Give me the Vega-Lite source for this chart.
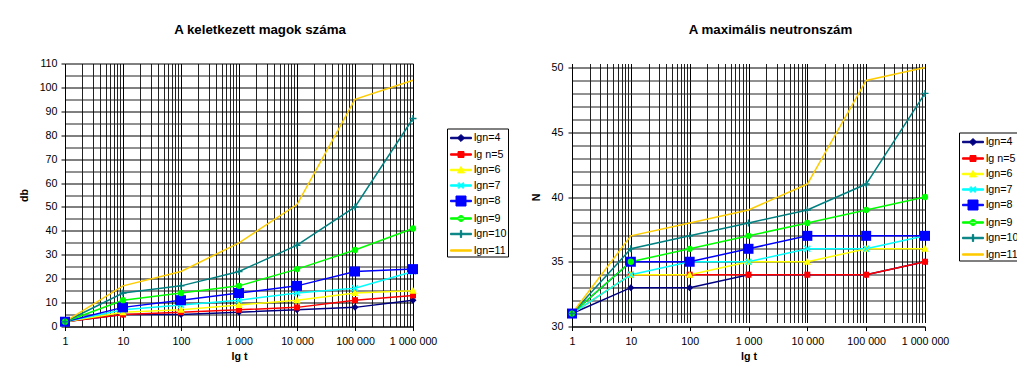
{
  "$schema": "https://vega.github.io/schema/vega-lite/v6.json",
  "padding": {"left": 18, "top": 22.5, "right": 0, "bottom": 0},
  "config": {
    "font": "Liberation Sans",
    "view": {"stroke": null},
    "axis": {
      "labelFont": "Liberation Sans", "labelFontSize": 10.7, "labelColor": "#000",
      "titleFont": "Liberation Sans", "titleFontSize": 10.7, "titleFontWeight": "bold", "titleColor": "#000",
      "domainColor": "#000", "gridOpacity": 1, "gridWidth": 1, "tickSize": 4, "labelOverlap": false, "labelFlush": false
    },
    "legend": {
      "labelFont": "Liberation Sans", "labelFontSize": 10.7, "labelColor": "#000",
      "strokeColor": "#000", "padding": 1, "symbolSize": 256, "rowPadding": 1.5, "labelOffset": 4.5, "symbolOffset": 4.5, "symbolStrokeWidth": 1
    }
  },
  "datasets": {
    "db": [
      {"t": 1, "s": "lgn=4", "v": 2}, {"t": 10, "s": "lgn=4", "v": 5}, {"t": 100, "s": "lgn=4", "v": 5}, {"t": 1000, "s": "lgn=4", "v": 6}, {"t": 10000, "s": "lgn=4", "v": 7}, {"t": 100000, "s": "lgn=4", "v": 8}, {"t": 1000000, "s": "lgn=4", "v": 11},
      {"t": 1, "s": "lg n=5", "v": 2}, {"t": 10, "s": "lg n=5", "v": 5}, {"t": 100, "s": "lg n=5", "v": 6}, {"t": 1000, "s": "lg n=5", "v": 7}, {"t": 10000, "s": "lg n=5", "v": 8}, {"t": 100000, "s": "lg n=5", "v": 11}, {"t": 1000000, "s": "lg n=5", "v": 13},
      {"t": 1, "s": "lgn=6", "v": 2}, {"t": 10, "s": "lgn=6", "v": 6}, {"t": 100, "s": "lgn=6", "v": 7}, {"t": 1000, "s": "lgn=6", "v": 9}, {"t": 10000, "s": "lgn=6", "v": 11}, {"t": 100000, "s": "lgn=6", "v": 14}, {"t": 1000000, "s": "lgn=6", "v": 15},
      {"t": 1, "s": "lgn=7", "v": 2}, {"t": 10, "s": "lgn=7", "v": 7}, {"t": 100, "s": "lgn=7", "v": 9}, {"t": 1000, "s": "lgn=7", "v": 11}, {"t": 10000, "s": "lgn=7", "v": 14}, {"t": 100000, "s": "lgn=7", "v": 16}, {"t": 1000000, "s": "lgn=7", "v": 23},
      {"t": 1, "s": "lgn=8", "v": 2}, {"t": 10, "s": "lgn=8", "v": 8}, {"t": 100, "s": "lgn=8", "v": 11}, {"t": 1000, "s": "lgn=8", "v": 14}, {"t": 10000, "s": "lgn=8", "v": 17}, {"t": 100000, "s": "lgn=8", "v": 23}, {"t": 1000000, "s": "lgn=8", "v": 24},
      {"t": 1, "s": "lgn=9", "v": 2}, {"t": 10, "s": "lgn=9", "v": 11}, {"t": 100, "s": "lgn=9", "v": 14}, {"t": 1000, "s": "lgn=9", "v": 17}, {"t": 10000, "s": "lgn=9", "v": 24}, {"t": 100000, "s": "lgn=9", "v": 32}, {"t": 1000000, "s": "lgn=9", "v": 41},
      {"t": 1, "s": "lgn=10", "v": 2}, {"t": 10, "s": "lgn=10", "v": 14}, {"t": 100, "s": "lgn=10", "v": 17}, {"t": 1000, "s": "lgn=10", "v": 23}, {"t": 10000, "s": "lgn=10", "v": 34}, {"t": 100000, "s": "lgn=10", "v": 50}, {"t": 1000000, "s": "lgn=10", "v": 87},
      {"t": 1, "s": "lgn=11", "v": 2}, {"t": 10, "s": "lgn=11", "v": 17}, {"t": 100, "s": "lgn=11", "v": 23}, {"t": 1000, "s": "lgn=11", "v": 35}, {"t": 10000, "s": "lgn=11", "v": 51}, {"t": 100000, "s": "lgn=11", "v": 95}, {"t": 1000000, "s": "lgn=11", "v": 103}
    ],
    "N": [
      {"t": 1, "s": "lgn=4", "v": 31}, {"t": 10, "s": "lgn=4", "v": 33}, {"t": 100, "s": "lgn=4", "v": 33}, {"t": 1000, "s": "lgn=4", "v": 34}, {"t": 10000, "s": "lgn=4", "v": 34}, {"t": 100000, "s": "lgn=4", "v": 34}, {"t": 1000000, "s": "lgn=4", "v": 35},
      {"t": 1, "s": "lg n=5", "v": 31}, {"t": 10, "s": "lg n=5", "v": 34}, {"t": 100, "s": "lg n=5", "v": 34}, {"t": 1000, "s": "lg n=5", "v": 34}, {"t": 10000, "s": "lg n=5", "v": 34}, {"t": 100000, "s": "lg n=5", "v": 34}, {"t": 1000000, "s": "lg n=5", "v": 35},
      {"t": 1, "s": "lgn=6", "v": 31}, {"t": 10, "s": "lgn=6", "v": 34}, {"t": 100, "s": "lgn=6", "v": 34}, {"t": 1000, "s": "lgn=6", "v": 35}, {"t": 10000, "s": "lgn=6", "v": 35}, {"t": 100000, "s": "lgn=6", "v": 36}, {"t": 1000000, "s": "lgn=6", "v": 36},
      {"t": 1, "s": "lgn=7", "v": 31}, {"t": 10, "s": "lgn=7", "v": 34}, {"t": 100, "s": "lgn=7", "v": 35}, {"t": 1000, "s": "lgn=7", "v": 35}, {"t": 10000, "s": "lgn=7", "v": 36}, {"t": 100000, "s": "lgn=7", "v": 36}, {"t": 1000000, "s": "lgn=7", "v": 37},
      {"t": 1, "s": "lgn=8", "v": 31}, {"t": 10, "s": "lgn=8", "v": 35}, {"t": 100, "s": "lgn=8", "v": 35}, {"t": 1000, "s": "lgn=8", "v": 36}, {"t": 10000, "s": "lgn=8", "v": 37}, {"t": 100000, "s": "lgn=8", "v": 37}, {"t": 1000000, "s": "lgn=8", "v": 37},
      {"t": 1, "s": "lgn=9", "v": 31}, {"t": 10, "s": "lgn=9", "v": 35}, {"t": 100, "s": "lgn=9", "v": 36}, {"t": 1000, "s": "lgn=9", "v": 37}, {"t": 10000, "s": "lgn=9", "v": 38}, {"t": 100000, "s": "lgn=9", "v": 39}, {"t": 1000000, "s": "lgn=9", "v": 40},
      {"t": 1, "s": "lgn=10", "v": 31}, {"t": 10, "s": "lgn=10", "v": 36}, {"t": 100, "s": "lgn=10", "v": 37}, {"t": 1000, "s": "lgn=10", "v": 38}, {"t": 10000, "s": "lgn=10", "v": 39}, {"t": 100000, "s": "lgn=10", "v": 41}, {"t": 1000000, "s": "lgn=10", "v": 48},
      {"t": 1, "s": "lgn=11", "v": 31}, {"t": 10, "s": "lgn=11", "v": 37}, {"t": 100, "s": "lgn=11", "v": 38}, {"t": 1000, "s": "lgn=11", "v": 39}, {"t": 10000, "s": "lgn=11", "v": 41}, {"t": 100000, "s": "lgn=11", "v": 49}, {"t": 1000000, "s": "lgn=11", "v": 50}
    ]
  },
  "spacing": 21,
  "resolve": {
    "scale": {"color": "independent", "shape": "independent"},
    "legend": {"color": "independent", "shape": "independent"}
  },
  "hconcat": [
    {
      "width": 348, "height": 263,
      "data": {"name": "db"},
      "title": {"text": "A keletkezett magok száma", "font": "Liberation Sans", "fontSize": 13.3, "fontWeight": "bold", "color": "#000", "anchor": "middle", "frame": "group", "dx": 21, "offset": 21},
      "encoding": {
        "x": {"field": "t", "type": "quantitative", "scale": {"type": "log", "domain": [1, 1000000], "nice": false},
          "axis": {"title": "lg t", "titlePadding": 5, "labelPadding": 6,
            "values": [1,2,3,4,5,6,7,8,9,10,20,30,40,50,60,70,80,90,100,200,300,400,500,600,700,800,900,1000,2000,3000,4000,5000,6000,7000,8000,9000,10000,20000,30000,40000,50000,60000,70000,80000,90000,100000,200000,300000,400000,500000,600000,700000,800000,900000,1000000],
            "labelExpr": "indexof([1,10,100,1000,10000,100000,1000000], datum.value) >= 0 ? replace(replace(format(datum.value, ','), ',', ' '), ',', ' ') : ''",
            "grid": true,
            "gridColor": {"condition": {"test": "indexof([1,10,100,1000,10000,100000,1000000], datum.value) >= 0", "value": "#000"}, "value": "#222"},
            "tickColor": {"condition": {"test": "indexof([1,10,100,1000,10000,100000,1000000], datum.value) >= 0", "value": "#000"}, "value": "transparent"}}},
        "y": {"field": "v", "type": "quantitative", "scale": {"domain": [0, 110], "nice": false},
          "axis": {"title": "db", "titlePadding": 10, "labelPadding": 4,
            "values": [0,5,10,15,20,25,30,35,40,45,50,55,60,65,70,75,80,85,90,95,100,105,110],
            "labelExpr": "datum.value % 10 == 0 ? datum.label : ''",
            "grid": true,
            "gridColor": {"condition": {"test": "datum.value % 10 == 0", "value": "#000"}, "value": "#222"},
            "tickColor": {"condition": {"test": "datum.value % 10 == 0", "value": "#000"}, "value": "transparent"}}},
        "color": {"field": "s", "type": "nominal",
          "scale": {"domain": ["lgn=4","lg n=5","lgn=6","lgn=7","lgn=8","lgn=9","lgn=10","lgn=11"], "range": ["#000080","#FF0000","#FFFF00","#00FFFF","#0000FF","#00FF00","#008080","#FFCC00"]},
          "legend": {"title": null, "orient": "none", "legendX": 382, "legendY": 65}}
      },
      "layer": [
        {"mark": {"type": "line", "strokeWidth": 1.5}},
        {"transform": [{"filter": "datum.s == 'lgn=4'"}], "mark": {"type": "point", "filled": true, "opacity": 1, "shape": "M0,-1L1,0L0,1L-1,0Z", "size": 49}},
        {"transform": [{"filter": "datum.s == 'lg n=5'"}], "mark": {"type": "point", "filled": true, "opacity": 1, "shape": "square", "size": 36}},
        {"transform": [{"filter": "datum.s == 'lgn=6'"}], "mark": {"type": "point", "filled": true, "opacity": 1, "shape": "M0,-1L1,0.8H-1Z", "size": 56}},
        {"transform": [{"filter": "datum.s == 'lgn=7'"}], "mark": {"type": "point", "filled": true, "opacity": 1, "shape": "M-1,-0.7L-0.7,-1L1,0.7L0.7,1ZM-1,0.7L0.7,-1L1,-0.7L-0.7,1Z", "size": 49}},
        {"transform": [{"filter": "datum.s == 'lgn=8'"}], "mark": {"type": "point", "filled": true, "opacity": 1, "shape": "square", "size": 100}},
        {"transform": [{"filter": "datum.s == 'lgn=9'"}], "mark": {"type": "point", "filled": true, "opacity": 1, "shape": "circle", "size": 40}},
        {"transform": [{"filter": "datum.s == 'lgn=10'"}], "mark": {"type": "point", "filled": true, "opacity": 1, "shape": "M-1,-0.2H-0.2V-1H0.2V-0.2H1V0.2H0.2V1H-0.2V0.2H-1Z", "size": 49}},
        {"transform": [{"filter": "false"}],
         "mark": {"type": "point", "filled": true, "opacity": 1},
         "encoding": {
           "shape": {"field": "s", "type": "nominal", "legend": null,
             "scale": {"domain": ["lgn=4","lg n=5","lgn=6","lgn=7","lgn=8","lgn=9","lgn=10","lgn=11"],
               "range": [
                 "M-1.31,-0.09H1.31V0.09H-1.31ZM0,-0.44L0.44,0L0,0.44L-0.44,0Z",
                 "M-1.31,-0.09H1.31V0.09H-1.31ZM-0.375,-0.375H0.375V0.375H-0.375Z",
                 "M-1.31,-0.09H1.31V0.09H-1.31ZM0,-0.44L0.44,0.36H-0.44Z",
                 "M-1.31,-0.09H1.31V0.09H-1.31ZM-0.375,-0.26L-0.26,-0.375L0.375,0.26L0.26,0.375ZM-0.375,0.26L0.26,-0.375L0.375,-0.26L-0.26,0.375Z",
                 "M-1.31,-0.09H1.31V0.09H-1.31ZM-0.625,-0.625H0.625V0.625H-0.625Z",
                 "M-1.31,-0.09H1.31V0.09H-1.31ZM-0.375,0A0.375,0.375 0 1,0 0.375,0A0.375,0.375 0 1,0 -0.375,0Z",
                 "M-1.31,-0.09H1.31V0.09H-1.31ZM-0.08,-0.44H0.08V0.44H-0.08Z",
                 "M-1.31,-0.09H1.31V0.09H-1.31Z"]}}
         }}
      ]
    },
    {
      "width": 353, "height": 263,
      "data": {"name": "N"},
      "title": {"text": "A maximális neutronszám", "font": "Liberation Sans", "fontSize": 13.3, "fontWeight": "bold", "color": "#000", "anchor": "middle", "frame": "group", "dx": 22, "offset": 25},
      "encoding": {
        "x": {"field": "t", "type": "quantitative", "scale": {"type": "log", "domain": [1, 1000000], "nice": false},
          "axis": {"title": "lg t", "titlePadding": 5, "labelPadding": 6,
            "values": [1,2,3,4,5,6,7,8,9,10,20,30,40,50,60,70,80,90,100,200,300,400,500,600,700,800,900,1000,2000,3000,4000,5000,6000,7000,8000,9000,10000,20000,30000,40000,50000,60000,70000,80000,90000,100000,200000,300000,400000,500000,600000,700000,800000,900000,1000000],
            "labelExpr": "indexof([1,10,100,1000,10000,100000,1000000], datum.value) >= 0 ? replace(replace(format(datum.value, ','), ',', ' '), ',', ' ') : ''",
            "grid": true,
            "gridColor": {"condition": {"test": "indexof([1,10,100,1000,10000,100000,1000000], datum.value) >= 0", "value": "#000"}, "value": "#222"},
            "tickColor": {"condition": {"test": "indexof([1,10,100,1000,10000,100000,1000000], datum.value) >= 0", "value": "#000"}, "value": "transparent"}}},
        "y": {"field": "v", "type": "quantitative", "scale": {"domain": [30, 50], "nice": false, "zero": false, "range": [263, 4]},
          "axis": {"title": "N", "titlePadding": 10, "labelPadding": 5,
            "values": [30,31,32,33,34,35,36,37,38,39,40,41,42,43,44,45,46,47,48,49,50],
            "labelExpr": "datum.value % 5 == 0 ? datum.label : ''",
            "grid": true,
            "gridColor": {"condition": {"test": "datum.value % 5 == 0", "value": "#000"}, "value": "#222"},
            "tickColor": {"condition": {"test": "datum.value % 5 == 0", "value": "#000"}, "value": "transparent"}}},
        "color": {"field": "s", "type": "nominal",
          "scale": {"domain": ["lgn=4","lg n=5","lgn=6","lgn=7","lgn=8","lgn=9","lgn=10","lgn=11"], "range": ["#000080","#FF0000","#FFFF00","#00FFFF","#0000FF","#00FF00","#008080","#FFCC00"]},
          "legend": {"title": null, "orient": "none", "legendX": 387, "legendY": 69}}
      },
      "layer": [
        {"mark": {"type": "line", "strokeWidth": 1.5}},
        {"transform": [{"filter": "datum.s == 'lgn=4'"}], "mark": {"type": "point", "filled": true, "opacity": 1, "shape": "M0,-1L1,0L0,1L-1,0Z", "size": 49}},
        {"transform": [{"filter": "datum.s == 'lg n=5'"}], "mark": {"type": "point", "filled": true, "opacity": 1, "shape": "square", "size": 36}},
        {"transform": [{"filter": "datum.s == 'lgn=6'"}], "mark": {"type": "point", "filled": true, "opacity": 1, "shape": "M0,-1L1,0.8H-1Z", "size": 56}},
        {"transform": [{"filter": "datum.s == 'lgn=7'"}], "mark": {"type": "point", "filled": true, "opacity": 1, "shape": "M-1,-0.7L-0.7,-1L1,0.7L0.7,1ZM-1,0.7L0.7,-1L1,-0.7L-0.7,1Z", "size": 49}},
        {"transform": [{"filter": "datum.s == 'lgn=8'"}], "mark": {"type": "point", "filled": true, "opacity": 1, "shape": "square", "size": 100}},
        {"transform": [{"filter": "datum.s == 'lgn=9'"}], "mark": {"type": "point", "filled": true, "opacity": 1, "shape": "circle", "size": 40}},
        {"transform": [{"filter": "datum.s == 'lgn=10'"}], "mark": {"type": "point", "filled": true, "opacity": 1, "shape": "M-1,-0.2H-0.2V-1H0.2V-0.2H1V0.2H0.2V1H-0.2V0.2H-1Z", "size": 49}},
        {"transform": [{"filter": "false"}],
         "mark": {"type": "point", "filled": true, "opacity": 1},
         "encoding": {
           "shape": {"field": "s", "type": "nominal", "legend": null,
             "scale": {"domain": ["lgn=4","lg n=5","lgn=6","lgn=7","lgn=8","lgn=9","lgn=10","lgn=11"],
               "range": [
                 "M-1.31,-0.09H1.31V0.09H-1.31ZM0,-0.44L0.44,0L0,0.44L-0.44,0Z",
                 "M-1.31,-0.09H1.31V0.09H-1.31ZM-0.375,-0.375H0.375V0.375H-0.375Z",
                 "M-1.31,-0.09H1.31V0.09H-1.31ZM0,-0.44L0.44,0.36H-0.44Z",
                 "M-1.31,-0.09H1.31V0.09H-1.31ZM-0.375,-0.26L-0.26,-0.375L0.375,0.26L0.26,0.375ZM-0.375,0.26L0.26,-0.375L0.375,-0.26L-0.26,0.375Z",
                 "M-1.31,-0.09H1.31V0.09H-1.31ZM-0.625,-0.625H0.625V0.625H-0.625Z",
                 "M-1.31,-0.09H1.31V0.09H-1.31ZM-0.375,0A0.375,0.375 0 1,0 0.375,0A0.375,0.375 0 1,0 -0.375,0Z",
                 "M-1.31,-0.09H1.31V0.09H-1.31ZM-0.08,-0.44H0.08V0.44H-0.08Z",
                 "M-1.31,-0.09H1.31V0.09H-1.31Z"]}}
         }}
      ]
    }
  ]
}
